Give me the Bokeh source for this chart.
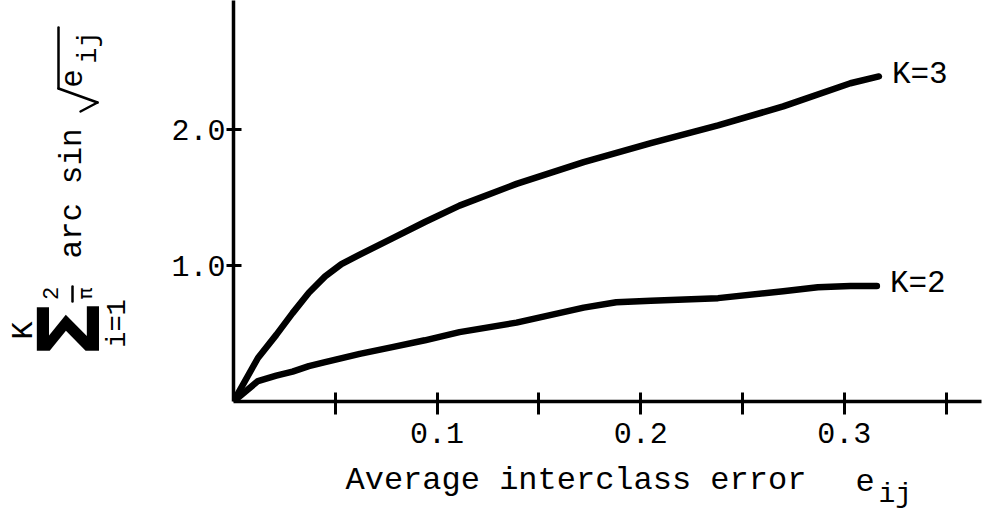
from bokeh.plotting import figure
from bokeh.layouts import row, column
from bokeh.models import Label, FixedTicker, PrintfTickFormatter, Range1d
from bokeh.embed import file_html
from bokeh.resources import INLINE

# ---- data ----
e_k3 = [0.0, 0.012, 0.021, 0.029, 0.037, 0.045, 0.053, 0.062, 0.078, 0.094, 0.111,
        0.139, 0.172, 0.205, 0.238, 0.270, 0.303, 0.317]
s_k3 = [0.0, 0.32, 0.49, 0.65, 0.80, 0.92, 1.01, 1.08, 1.20, 1.32, 1.44,
        1.60, 1.76, 1.90, 2.03, 2.17, 2.34, 2.39]
e_k2 = [0.0, 0.012, 0.021, 0.029, 0.037, 0.045, 0.062, 0.078, 0.094, 0.111, 0.139,
        0.172, 0.188, 0.205, 0.238, 0.270, 0.287, 0.303, 0.316]
s_k2 = [0.0, 0.15, 0.19, 0.22, 0.26, 0.29, 0.35, 0.40, 0.45, 0.51, 0.58,
        0.69, 0.73, 0.74, 0.76, 0.81, 0.84, 0.85, 0.85]
x_major = [0.1, 0.2, 0.3]
x_minor = [0.05, 0.15, 0.25, 0.35]
y_major = [1.0, 2.0]
curve_names = ["K=3", "K=2"]
x_title = "Average interclass error"

# ---- layout (pixels) ----
W, H = 985, 512
L = 140            # width of the panel holding the rotated y title
HROW = 458         # height of the main plot row
X0, Y0 = 233, 401  # position of the origin in the picture
MR = 4
FONT = "Liberation Mono"
FW = W - X0 - MR
FH = Y0
X_END = FW / 2036
Y_END = FH / 136


def blank(width, height, bottom=0):
    f = figure(width=width, height=height, output_backend="svg", toolbar_location=None,
               x_range=Range1d(0, width), y_range=Range1d(0, height - bottom),
               x_axis_type=None, y_axis_type=None,
               min_border_left=0, min_border_right=0, min_border_top=0,
               min_border_bottom=bottom)
    f.outline_line_color = None
    f.xgrid.visible = False
    f.ygrid.visible = False
    return f


# ---------------- main plot ----------------
p = figure(width=W - L, height=HROW, output_backend="svg", toolbar_location=None,
           x_range=Range1d(0, X_END), y_range=Range1d(0, Y_END),
           min_border_left=X0 - L, min_border_right=MR, min_border_top=0,
           min_border_bottom=HROW - Y0)
p.outline_line_color = None
p.xgrid.visible = False
p.ygrid.visible = False

p.line(e_k3, s_k3, line_width=6.5, color="black", line_cap="round", line_join="round")
p.line(e_k2, s_k2, line_width=6.5, color="black", line_cap="round", line_join="round")

xa = p.xaxis[0]
xa.ticker = FixedTicker(ticks=x_major, minor_ticks=x_minor)
xa.formatter = PrintfTickFormatter(format="%.1f")
xa.axis_line_width = 3.5
xa.major_tick_line_width = 3
xa.minor_tick_line_width = 3
xa.major_tick_in = 9
xa.major_tick_out = 13
xa.minor_tick_in = 9
xa.minor_tick_out = 13
xa.major_label_text_font = FONT
xa.major_label_text_font_size = "30px"
xa.major_label_text_color = "black"
xa.major_label_standoff = 8

ya = p.yaxis[0]
ya.ticker = FixedTicker(ticks=y_major, minor_ticks=[])
ya.formatter = PrintfTickFormatter(format="%.1f")
ya.axis_line_width = 3.5
ya.major_tick_line_width = 3
ya.major_tick_in = 8
ya.major_tick_out = 7
ya.minor_tick_in = 0
ya.minor_tick_out = 0
ya.major_label_text_font = FONT
ya.major_label_text_font_size = "30px"
ya.major_label_text_color = "black"
ya.major_label_standoff = 1
ya.major_label_orientation = "horizontal"

ends = [(e_k3[-1], s_k3[-1]), (e_k2[-1], s_k2[-1])]
for name, (ex, ey) in zip(curve_names, ends):
    p.add_layout(Label(x=ex, y=ey, x_offset=13, y_offset=2, text=name, text_font=FONT,
                       text_font_size="31px",
                       text_baseline="middle", text_align="left", text_color="black"))

# ---------------- rotated y title panel (frame spans picture y 0..Y0) ----------------
pl = blank(L, HROW, bottom=HROW - Y0)


def vlabel(cx, cy, text, size, font=FONT, style="normal"):
    # centred, rotated label; (cx, cy) are picture pixels
    pl.add_layout(Label(x=cx, y=Y0 - cy, text=text, angle=90, angle_units="deg",
                        text_font=font, text_font_size=size, text_font_style=style,
                        text_align="center", text_baseline="middle", text_color="black"))


# sum_{i=1}^{K} 2/pi arc sin sqrt(e_ij)
vlabel(23, 330, "K", "30px")
vlabel(68, 329, "Σ", "86px", font="DejaVu Sans", style="bold")
vlabel(117, 323, "i=1", "27px")
vlabel(50, 293, "2", "22px")
vlabel(84, 293, "π", "20px", font="DejaVu Sans")
vlabel(72, 193, "arc sin", "31px")
vlabel(71, 78, "e", "31px")
vlabel(88, 47, "ij", "27px")
# fraction bar and radical sign strokes
sx0 = [72, 80, 97, 58]
sy0 = [286, 111, 102, 88]
sx1 = [72, 97, 58, 58]
sy1 = [301, 102, 88, 27]
pl.segment(x0=sx0, y0=[Y0 - v for v in sy0], x1=sx1, y1=[Y0 - v for v in sy1],
           line_width=2.5, line_color="black", line_cap="round")

# ---------------- x title panel ----------------
HB = H - HROW
pb = blank(W, HB)


def hlabel(px, cy, text, size):
    pb.add_layout(Label(x=px, y=HB - (cy - HROW), text=text, text_font=FONT,
                        text_font_size=size, text_align="left", text_baseline="middle",
                        text_color="black"))


hlabel(345, 480, x_title, "32px")
hlabel(855, 480, "e", "32px")
hlabel(878, 494, "ij", "28px")

layout = column(row(pl, p, spacing=0), pb, spacing=0)
open("out.html", "w").write(file_html(layout, INLINE))
